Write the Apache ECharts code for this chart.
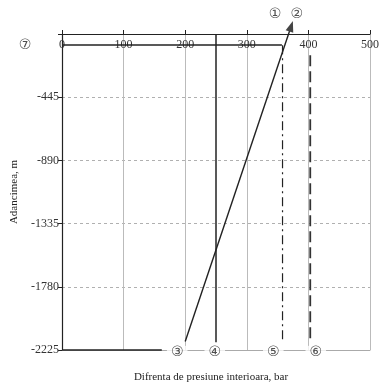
<!DOCTYPE html>
<html><head><meta charset="utf-8">
<script src="https://cdn.jsdelivr.net/npm/echarts@6/dist/echarts.min.js"></script>
<style>html,body{margin:0;padding:0;background:#fff}#c{width:383px;height:388px}</style>
</head><body><div id="c"></div>
<script>
// X ticks (bar) and Y ticks (m)
const xTicks = [0, 100, 200, 300, 400, 500];
const yTicks = [0, -445, -890, -1335, -1780, -2225];
// Curves: [pressure, depth]
const line3 = [[200, -2165], [372, 55]];      // diagonal with arrow
const line4 = [[250, 0], [250, -2170]];        // solid vertical
const line5 = [[358, -80], [358, -2155]];      // dash-dot vertical
const line6 = [[403, -150], [403, -2165]];     // dashed vertical
const line7 = [[0, -77], [357, -77]];          // horizontal near top
const baseSeg = [[0, -2225], [162, -2225]];    // dark bottom segment
// Circled labels: [x, y, text]
const marks = [
  [-60, -77, '⑦'], [346, 140, '①'], [381, 140, '②'],
  [187, -2245, '③'], [248, -2245, '④'], [343, -2245, '⑤'], [412, -2245, '⑥']
];
const serif = 'Liberation Serif';
const chart = echarts.init(document.getElementById('c'));
const ink = '#222';
chart.setOption({
  animation: false,
  grid: {left: 62, right: 13, top: 34, bottom: 34},
  xAxis: [{
    type: 'value', position: 'top', min: xTicks[0], max: xTicks[xTicks.length-1], interval: 100,
    axisLine: {lineStyle: {color: ink, width: 1.2}},
    axisTick: {length: 4, lineStyle: {color: ink}},
    axisLabel: {inside: true, margin: 5, fontFamily: serif, fontSize: 12, color: '#333'},
    splitLine: {lineStyle: {color: '#bbb'}}
  }, {
    type: 'value', position: 'bottom', min: 0, max: 500, interval: 100,
    axisLine: {show: true, lineStyle: {color: '#aaa'}},
    axisTick: {show: false}, axisLabel: {show: false}, splitLine: {show: false},
    name: 'Difrenta de presiune interioara, bar', nameLocation: 'middle', nameGap: 22,
    nameTextStyle: {fontFamily: serif, fontSize: 11, color: '#222', padding: [0, 10, 0, 0]}
  }],
  yAxis: {
    type: 'value', min: yTicks[yTicks.length-1], max: yTicks[0], interval: 445,
    axisLine: {show: true, lineStyle: {color: ink, width: 1.2}},
    axisTick: {show: true, length: 4, lineStyle: {color: ink}},
    axisLabel: {margin: 3, fontFamily: serif, fontSize: 12, color: '#333',
      formatter: v => v === 0 ? '' : String(v)},
    splitLine: {lineStyle: {color: '#b0b0b0', type: [3, 3]}},
    name: 'Adancimea, m', nameLocation: 'middle', nameGap: 40,
    nameTextStyle: {fontFamily: serif, fontSize: 11, color: '#222'}
  },
  series: [
    {type: 'line', clip: false, data: line7, symbol: 'none', lineStyle: {color: ink, width: 1.4}},
    {type: 'line', clip: false, data: baseSeg, symbol: 'none', lineStyle: {color: ink, width: 1.4}},
    {type: 'line', clip: false, data: line4, symbol: 'none', lineStyle: {color: ink, width: 1.5}},
    {type: 'line', clip: false, data: line5, symbol: 'none', lineStyle: {color: ink, width: 1.2, type: [9, 4, 2, 4]}},
    {type: 'line', clip: false, data: line6, symbol: 'none', lineStyle: {color: '#333', width: 1.8, type: [11, 5]}},
    {type: 'line', clip: false, symbol: 'none', lineStyle: {color: ink, width: 1.4},
      data: [line3[0], {value: line3[1], symbol: 'triangle', symbolSize: [8, 11], symbolRotate: -18,
        itemStyle: {color: '#444'}}]},
    {type: 'scatter', clip: false, symbolSize: 0, z: 10,
      data: marks.map(m => ({value: [m[0], m[1]], name: m[2]})),
      label: {show: true, position: 'inside', formatter: p => p.name, fontFamily: 'DejaVu Sans',
        fontSize: 14, color: '#222', backgroundColor: '#fff', padding: [0, 4]}}
  ]
});
</script></body></html>
